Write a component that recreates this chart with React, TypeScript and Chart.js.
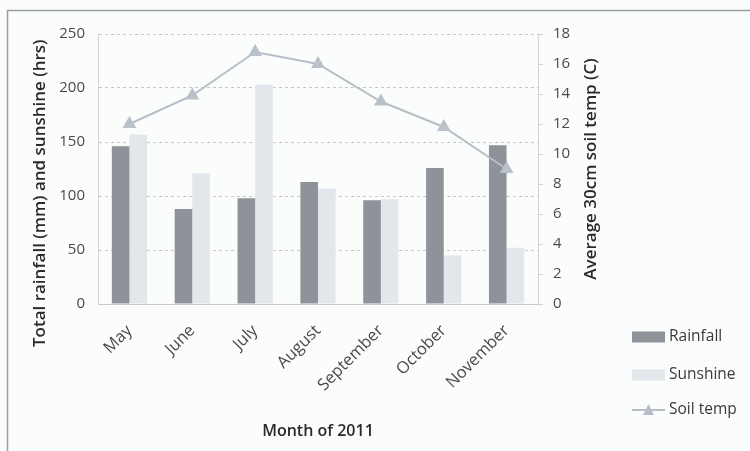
import React, { useEffect, useRef } from "react";
import { Chart, registerables } from "chart.js";
Chart.register(...registerables);

const months = ["May", "June", "July", "August", "September", "October", "November"];
const rainfall = [146, 88, 98, 113, 96, 126, 147];
const sunshine = [157, 121, 203, 107, 97, 45, 52];
const soilTemp = [12.0, 13.9, 16.8, 16.0, 13.5, 11.8, 9.0];
const leftAxisMax = 250;
const leftAxisStep = 50;
const rightAxisMax = 18;
const rightAxisStep = 2;

const seriesNames = ["Rainfall", "Sunshine", "Soil temp"];
const leftTitle = "Total rainfall (mm) and sunshine (hrs)";
const rightTitle = "Average 30cm soil temp (C)";
const xTitle = "Month of 2011";
const rainColor = "#8e9399";
const sunColor = "#e3e7ec";
const soilColor = "#b6bec8";
const FONT = "'Open Sans', sans-serif";

export default function App() {
  const ref = useRef<HTMLCanvasElement | null>(null);
  useEffect(() => {
    if (!ref.current) return;
    const bgPlugin = {
      id: "bg",
      beforeDraw(chart: any) {
        const c = chart.ctx;
        c.save();
        c.fillStyle = "#fbfcfc";
        c.fillRect(0, 0, chart.width, chart.height);
        c.strokeStyle = "#9a9ea3";
        c.lineWidth = 1.5;
        c.beginPath();
        c.moveTo(7.5, chart.height + 2);
        c.lineTo(7.5, 10.5);
        c.lineTo(chart.width + 2, 10.5);
        c.stroke();
        c.restore();
      },
    };
    const titlesPlugin = {
      id: "axisTitles",
      afterDraw(chart: any) {
        const c = chart.ctx;
        const area = chart.chartArea;
        c.save();
        c.font = `600 17px ${FONT}`;
        c.fillStyle = "#2a2a2a";
        c.textAlign = "center";
        c.textBaseline = "middle";
        // left title
        c.save();
        c.translate(40, area.top + (area.bottom - area.top) * 0.59);
        c.rotate(-Math.PI / 2);
        c.fillText(leftTitle, 0, 0);
        c.restore();
        // right title
        c.save();
        c.translate(591, (area.top + area.bottom) / 2);
        c.rotate(-Math.PI / 2);
        c.fillText(rightTitle, 0, 0);
        c.restore();
        c.restore();
      },
    };
    const legendPlugin = {
      id: "customLegend",
      afterDraw(chart: any) {
        const c = chart.ctx;
        const x0 = 632;
        const ys = [337, 375, 410];
        c.save();
        c.font = `15.5px ${FONT}`;
        c.textBaseline = "middle";
        chart.data.datasets.forEach((ds: any, i: number) => {
          const y = ys[i];
          if (ds.type === "line") {
            c.strokeStyle = soilColor;
            c.lineWidth = 2;
            c.beginPath();
            c.moveTo(x0, y);
            c.lineTo(x0 + 33, y);
            c.stroke();
            c.fillStyle = soilColor;
            c.beginPath();
            c.moveTo(x0 + 16.5, y - 6);
            c.lineTo(x0 + 22, y + 5);
            c.lineTo(x0 + 11, y + 5);
            c.closePath();
            c.fill();
          } else {
            c.fillStyle = ds.backgroundColor;
            c.fillRect(x0, y - 5.5, 33, 11);
          }
          c.fillStyle = "#3a3a3a";
          c.fillText(ds.label, x0 + 37, y);
        });
        c.restore();
      },
    };
    const chart = new Chart(ref.current, {
      type: "bar",
      data: {
        labels: months,
        datasets: [
          {
            type: "bar",
            label: seriesNames[0],
            data: rainfall,
            backgroundColor: rainColor,
            yAxisID: "y",
            order: 1,
            categoryPercentage: 0.56,
            barPercentage: 1,
          },
          {
            type: "bar",
            label: seriesNames[1],
            data: sunshine,
            backgroundColor: sunColor,
            yAxisID: "y",
            order: 1,
            categoryPercentage: 0.56,
            barPercentage: 1,
          },
          {
            type: "line",
            label: seriesNames[2],
            data: soilTemp,
            borderColor: soilColor,
            borderWidth: 2,
            backgroundColor: soilColor,
            pointStyle: "triangle",
            pointRadius: 6,
            pointBackgroundColor: "#b9c1ca",
            pointBorderColor: "#b9c1ca",
            yAxisID: "y1",
            order: 0,
          } as any,
        ],
      },
      options: {
        animation: false,
        responsive: true,
        maintainAspectRatio: false,
        layout: { padding: { left: 8, top: 34, right: 142, bottom: 10 } },
        plugins: { legend: { display: false }, tooltip: { enabled: false } },
        scales: {
          x: {
            grid: { display: false },
            border: { display: true, color: "#c9c9c9", dash: [3, 3] },
            ticks: {
              font: { family: FONT, size: 16.5 },
              color: "#4a4a4a",
              minRotation: 45,
              maxRotation: 45,
              padding: 9,
            },
            title: {
              display: true,
              text: xTitle,
              font: { family: FONT, size: 16, weight: "600" },
              color: "#2a2a2a",
              padding: { top: 12, bottom: 0 },
            },
            afterFit: (s: any) => {
              s.height = 137;
            },
          } as any,
          y: {
            position: "left",
            min: 0,
            max: leftAxisMax,
            ticks: {
              stepSize: leftAxisStep,
              font: { family: FONT, size: 15 },
              color: "#4a4a4a",
              padding: 13,
            },
            grid: { color: "#c8c8c8", drawTicks: false },
            border: { display: true, color: "#d2d2d2", dash: [3, 3] },
            afterFit: (s: any) => {
              s.width = 90;
            },
          } as any,
          y1: {
            position: "right",
            min: 0,
            max: rightAxisMax,
            ticks: {
              stepSize: rightAxisStep,
              font: { family: FONT, size: 15 },
              color: "#4a4a4a",
              padding: 10,
            },
            grid: { drawOnChartArea: false, color: "#cfcfcf", tickLength: 5 },
            border: { display: true, color: "#d2d2d2", dash: [3, 3] },
            afterFit: (s: any) => {
              s.width = 70;
            },
          } as any,
        },
      },
      plugins: [bgPlugin, titlesPlugin, legendPlugin],
    });
    return () => chart.destroy();
  }, []);
  return (
    <div style={{ position: "absolute", left: 0, top: 0, width: 750, height: 451 }}>
      <canvas ref={ref} />
    </div>
  );
}
